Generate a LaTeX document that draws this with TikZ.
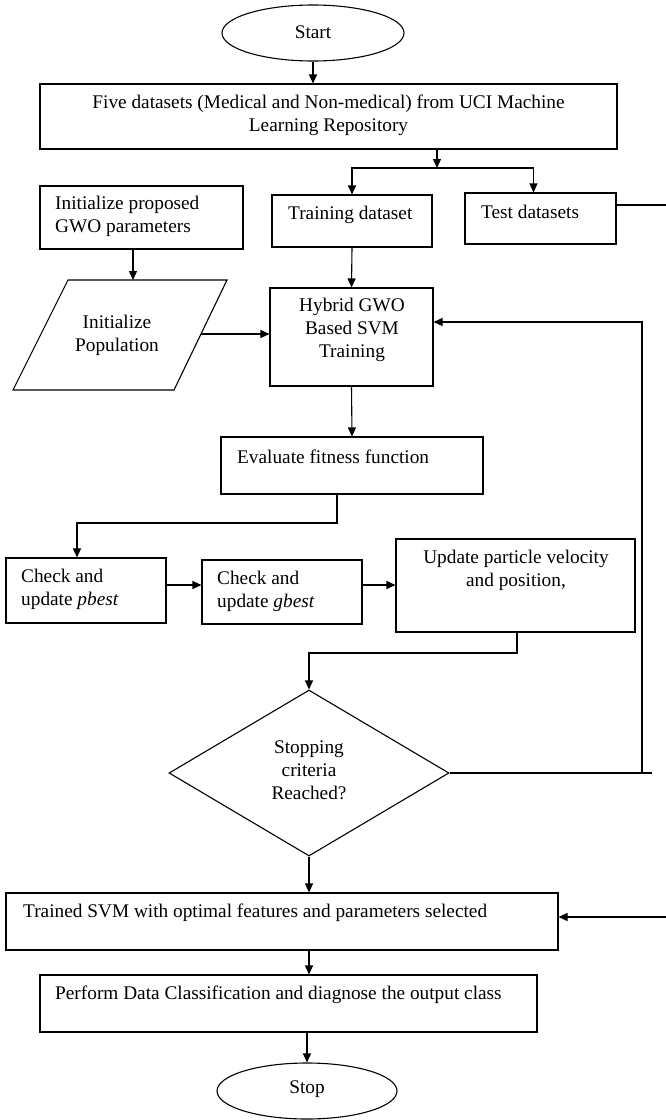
\documentclass[tikz,border=0pt]{standalone}
\usepackage{fontspec}
\setmainfont{Liberation Serif}
\usetikzlibrary{shapes.geometric,arrows.meta}
\begin{document}
\begin{tikzpicture}[x=1pt,y=-1pt,
  txt/.style={font=\fontsize{19.3}{23}\selectfont,inner sep=0pt},
  box/.style={draw,line width=1.1pt,inner sep=0pt,rectangle},
  oval/.style={draw,line width=1.1pt,inner sep=0pt,ellipse},
  arr/.style={-{Triangle[length=9pt,width=8pt]},line width=1.1pt},
  ln/.style={line width=1.1pt}]
\useasboundingbox[fill=white] (0,0) rectangle (666,1120);

% shapes
\node[oval,minimum width=182pt,minimum height=56pt] (start) at (313,33) {};
\node[box,minimum width=577pt,minimum height=65pt] (box1) at (328.5,116.5) {};
\node[box,minimum width=203pt,minimum height=63pt] (init) at (141.5,217.5) {};
\node[box,minimum width=160pt,minimum height=52pt] (train) at (352,221) {};
\node[box,minimum width=151pt,minimum height=51pt] (test) at (540.5,218.5) {};
\coordinate (pA) at (68,280);
\coordinate (pB) at (227,280);
\coordinate (pC) at (174,390);
\coordinate (pD) at (13,390);
\draw[ln] (pA) -- (pB) -- (pC) -- (pD) -- cycle;
\node[box,minimum width=163pt,minimum height=98pt] (hybrid) at (351.5,337) {};
\node[box,minimum width=262pt,minimum height=57pt] (eval) at (352,465.5) {};
\node[box,minimum width=160pt,minimum height=65pt] (pbest) at (86,590.5) {};
\node[box,minimum width=160pt,minimum height=64pt] (gbest) at (282,592) {};
\node[box,minimum width=239pt,minimum height=93pt] (update) at (515.5,585.5) {};
\node[draw,line width=1.1pt,diamond,inner sep=0pt,minimum width=280pt,minimum height=166pt] (dia) at (309,773) {};
\node[box,minimum width=552pt,minimum height=57pt] (trained) at (282,921.5) {};
\node[box,minimum width=497pt,minimum height=57pt] (perform) at (288.5,1003.5) {};
\node[oval,minimum width=180pt,minimum height=56pt] (stop) at (307,1091) {};

% texts
\node[txt] (tstart) at (313,32) {Start};
\node[txt,align=center] (tbox1) at (328.5,115.5) {Five datasets (Medical and Non-medical) from UCI Machine\\Learning Repository};
\node[txt,align=left,anchor=west] (tinit) at (55,216.5) {Initialize proposed\\GWO parameters};
\node[txt,anchor=west] (ttrain) at (288,215) {Training dataset};
\node[txt,anchor=west] (ttest) at (481,212) {Test datasets};
\node[txt,align=center] (tpara) at (117,335.5) {Initialize\\Population};
\node[txt,align=center] (thybrid) at (352,330) {Hybrid GWO\\Based SVM\\Training};
\node[txt,anchor=west] (teval) at (237,457) {Evaluate fitness function};
\node[txt,align=left,anchor=west] (tpbest) at (21,589) {Check and\\update \textit{pbest}};
\node[txt,align=left,anchor=west] (tgbest) at (217,591) {Check and\\update \textit{gbest}};
\node[txt,align=center] (tupdate) at (516,570) {Update particle velocity\\and position,};
\node[txt,align=center] (tdia) at (309,770) {Stopping\\criteria\\Reached?};
\node[txt,anchor=west] (ttrained) at (23,913) {Trained SVM with optimal features and parameters selected};
\node[txt,anchor=west] (tperform) at (55,995) {Perform Data Classification and diagnose the output class};
\node[txt] (tstop) at (307,1089) {Stop};

% connectors
\draw[arr] (start.south) -- (start.south |- box1.north);
\coordinate (j) at (437,168);
\draw[arr] (box1.south -| j) -- (j);
\draw[arr] (j) -| (train.north);
\draw[arr] (j) -| ([xshift=-7pt]test.north);
\coordinate (testout) at (666,205);
\draw[ln] (test.east |- testout) -- (testout);
\coordinate (paratop) at (133,280);
\draw[arr] (init.south -| paratop) -- (paratop);
\draw[arr] (train.south) -- (hybrid.north);
\coordinate (paraR) at (201,334);
\draw[arr] (paraR) -- (hybrid.west |- paraR);
\coordinate (fbR) at (652,773);
\coordinate (fbV) at (642,773);
\coordinate (fbT) at (642,322);
\draw[ln] (dia.east) -- (fbR);
\draw[arr] (fbV) -- (fbT) -- (hybrid.east |- fbT);
\draw[arr] (hybrid.south) -- (eval.north);
\coordinate (e1) at (337,523);
\coordinate (pbtop) at (77,523);
\draw[arr] (eval.south -| e1) -- (e1) -- (pbtop) -- (pbtop |- pbest.north);
\coordinate (row) at (0,585);
\draw[arr] (pbest.east |- row) -- (gbest.west |- row);
\draw[arr] (gbest.east |- row) -- (update.west |- row);
\coordinate (u1) at (517,653);
\draw[arr] (update.south -| u1) -- (u1) -| (dia.north);
\draw[arr] (dia.south) -- (dia.south |- trained.north);
\coordinate (tin) at (666,917);
\draw[arr] (tin) -- (trained.east |- tin);
\draw[arr] (dia.south |- trained.south) -- (dia.south |- perform.north);
\draw[arr] (stop.north |- perform.south) -- (stop.north);
\end{tikzpicture}
\end{document}
